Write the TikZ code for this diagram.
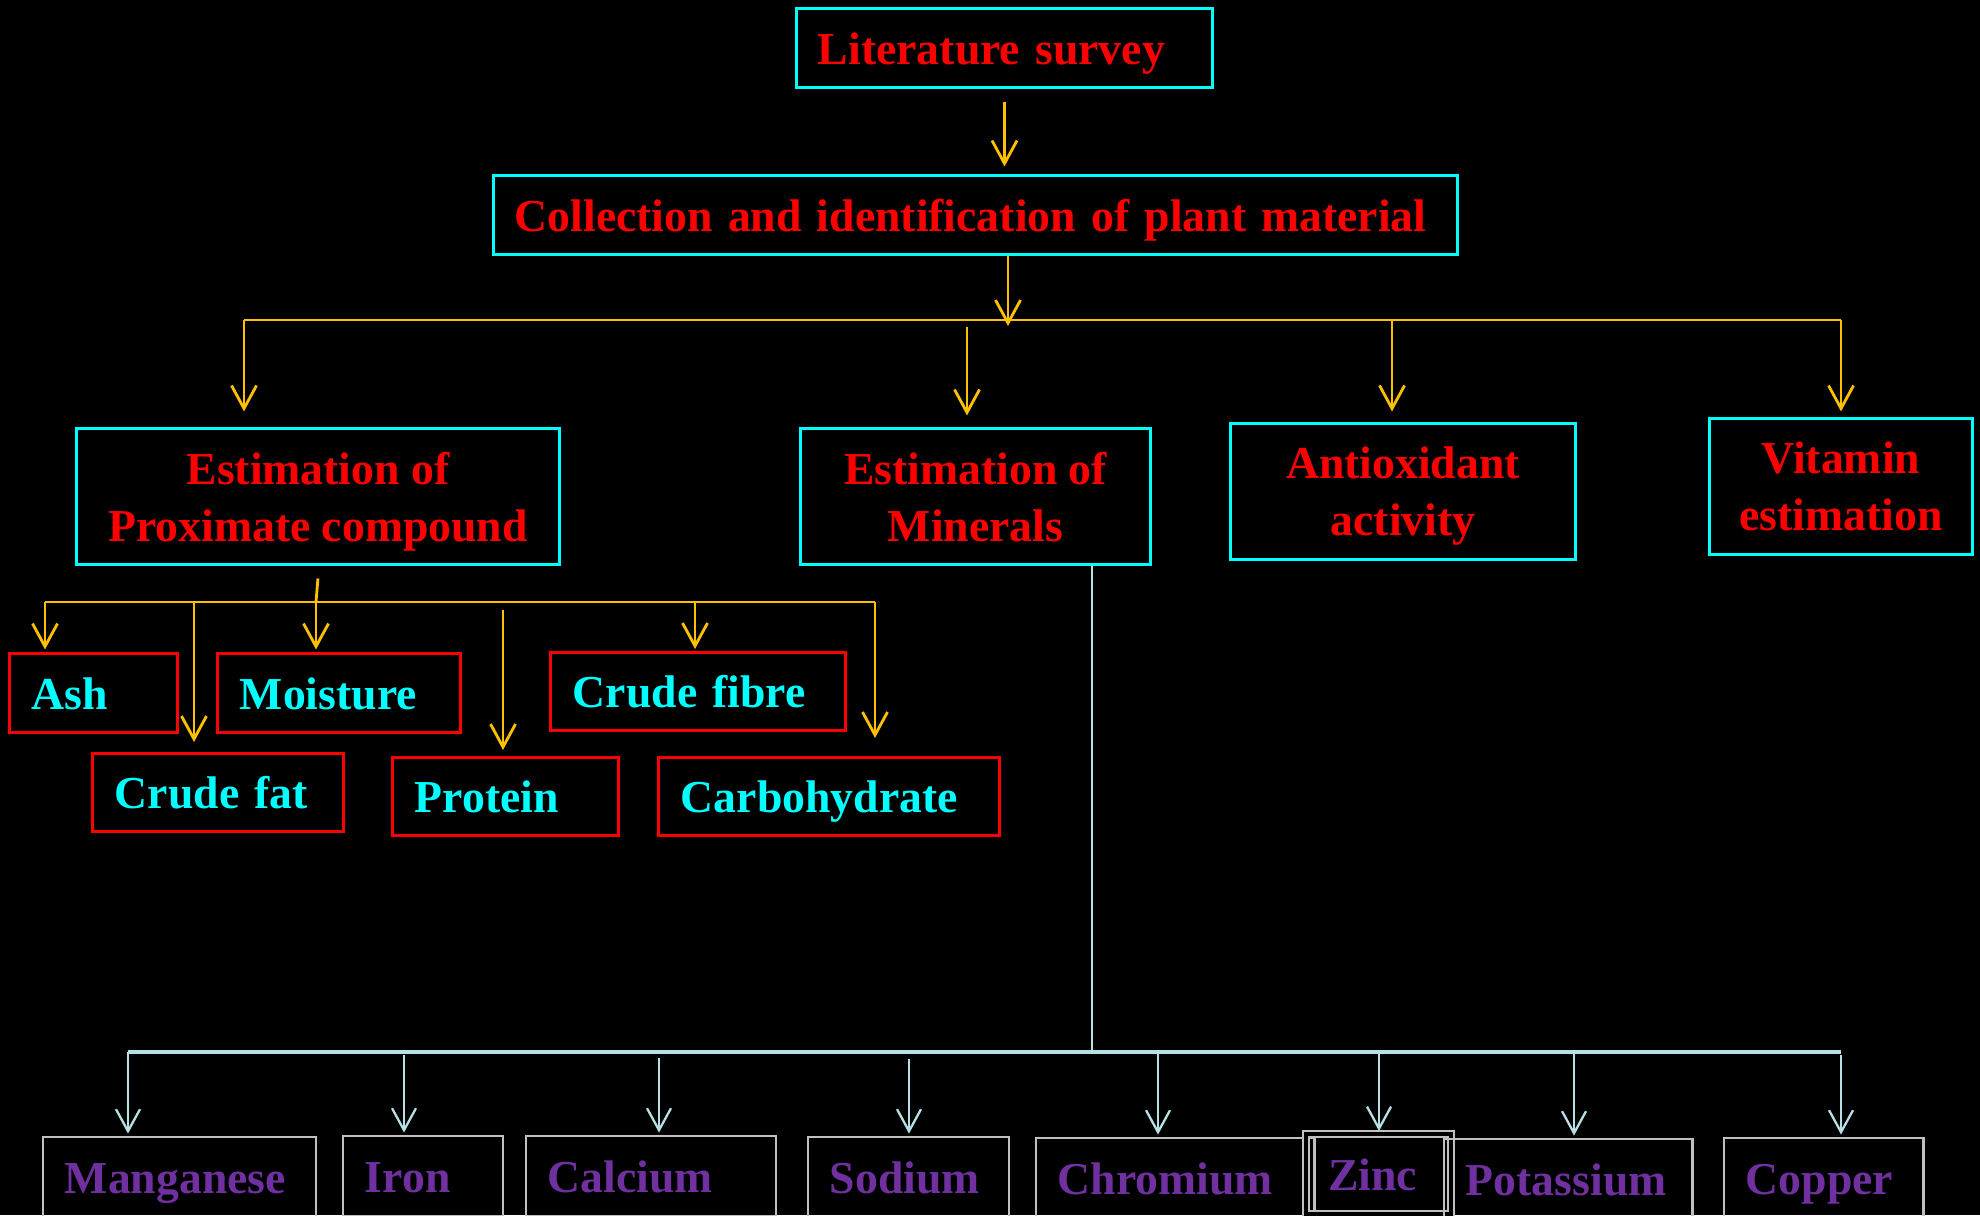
\documentclass[tikz,border=0pt]{standalone}
\usepackage{fontspec}
\setmainfont{Liberation Serif}
\usepackage{xcolor}
\usepackage{tikz}
\usetikzlibrary{
    positioning,
    arrows.meta,
    calc
}
\definecolor{boxcyan}{HTML}{00FFFF}
\definecolor{txtred}{HTML}{FF0000}
\definecolor{linkyellow}{HTML}{FFC000}
\definecolor{minblue}{HTML}{B7E0E6}
\definecolor{mingray}{HTML}{C0C0C0}
\definecolor{minpurple}{HTML}{7030A0}
\newcommand{\flowfont}{\fontsize{13}{16.2}\selectfont\bfseries}
\tikzset{
    stagebox/.style={
        rectangle, draw=boxcyan, line width=0.85pt,
        text=txtred, font=\flowfont,
        inner sep=0pt, align=center, text depth=0cm
    },
    stageline/.style={
        stagebox, align=left, inner xsep=0.21cm,
        minimum height=0.78cm, text height=0.32cm, text depth=0cm
    },
    proxleaf/.style={
        rectangle, draw=txtred, line width=0.85pt,
        text=boxcyan, font=\flowfont, align=left,
        inner xsep=0.22cm, inner ysep=0pt,
        minimum height=0.78cm, text height=0.32cm, text depth=0cm
    },
    minleaf/.style={
        rectangle, draw=mingray, line width=0.8pt,
        text=minpurple, font=\flowfont, align=left,
        inner xsep=0.22cm, inner ysep=0pt,
        minimum height=0.8cm, text height=0.32cm, text depth=0cm
    },
    flowline/.style={draw=linkyellow, line width=0.8pt},
    flowarrow/.style={flowline, -{Straight Barb[length=0.23cm, width=0.25cm, line width=0.8pt]}},
    minline/.style={draw=minblue, line width=0.75pt},
    minbar/.style={draw=minblue, line width=1.15pt},
    minarrow/.style={minline, line width=0.65pt, -{Straight Barb[length=0.22cm, width=0.24cm, line width=0.65pt]}}
}

\begin{document}
\begin{tikzpicture}[x=0.01cm, y=-0.01cm]

    \useasboundingbox (0,0) rectangle (1980,1215);
    \fill[black] (0,0) rectangle (1980,1215);

    % TOP STAGES
    \node[stageline, text width=3.73cm] (lit) at (1004.5,48) {Literature survey};
    \node[stageline, text width=9.21cm] (coll) at (975.5,215) {Collection and identification of plant material};

    % ESTIMATIONS
    \node[stagebox, minimum width=4.82cm, minimum height=1.35cm] (prox) at (318,496.5) {Estimation of\\Proximate compound};
    \node[stagebox, minimum width=3.49cm, minimum height=1.35cm] (minr) at (975.5,496.5) {Estimation of\\Minerals};
    \node[stagebox, minimum width=3.44cm, minimum height=1.35cm] (anti) at (1403,491.5) {Antioxidant\\activity};
    \node[stagebox, minimum width=2.62cm, minimum height=1.35cm] (vita) at (1841,486.5) {Vitamin\\estimation};

    % PROXIMATE LEAVES
    \node[proxleaf, text width=1.23cm] (ash) at (93.5,693) {Ash};
    \node[proxleaf, text width=2.06cm] (fat) at (218,792.5) {Crude fat};
    \node[proxleaf, text width=1.98cm] (moist) at (339,693) {Moisture};
    \node[proxleaf, text width=1.81cm] (prot) at (505.5,796.5) {Protein};
    \node[proxleaf, text width=2.50cm] (fibre) at (698,691.5) {Crude fibre};
    \node[proxleaf, text width=2.96cm] (carb) at (829,796.5) {Carbohydrate};

    % MINERAL LEAVES
    \node[minleaf, text width=2.29cm] (mang) at (179.5,1177) {Manganese};
    \node[minleaf, text width=1.16cm] (iron) at (423,1176) {Iron};
    \node[minleaf, text width=2.06cm] (calc) at (651,1176) {Calcium};
    \node[minleaf, text width=1.57cm] (sod) at (908.5,1177) {Sodium};
    \node[minleaf, text width=2.34cm] (chrom) at (1175,1178) {Chromium};
    \node[minleaf, text width=1.01cm, line width=0.55pt, double=black, double distance=0.04cm] (zinc) at (1378.5,1174) {Zinc};
    \node[minleaf, text width=2.04cm] (pot) at (1568,1179) {Potassium};
    \node[minleaf, text width=1.55cm] (copp) at (1823.5,1178) {Copper};

    % Connections
    % Literature -> Collection
    \draw[flowarrow, shorten <=0.13cm, shorten >=0.08cm] (lit.south) -- (lit.south |- coll.north);

    % Collection -> bus
    \coordinate (hub_top) at (1008,320);
    \coordinate (bar_l) at (244,320);
    \coordinate (bar_r) at (1841,320);
    \draw[flowarrow] (coll.south -| hub_top) -- ([yshift=-0.06cm]hub_top);
    \draw[flowline] (bar_l) -- (bar_r);

    % bus -> Estimations
    \coordinate (minr_in) at (967,327);
    \coordinate (anti_in) at (1392,320);
    \draw[flowarrow, shorten >=0.16cm] (bar_l) -- (bar_l |- prox.north);
    \draw[flowarrow, shorten >=0.12cm] (minr_in) -- (minr_in |- minr.north);
    \draw[flowarrow, shorten >=0.11cm] (anti_in) -- (anti_in |- anti.north);
    \draw[flowarrow, shorten >=0.06cm] (bar_r) -- (vita.north);

    % Proximate -> leaves
    \coordinate (prox_hub) at (316,602);
    \coordinate (prox_bar_l) at (45,602);
    \coordinate (prox_bar_r) at (875,602);
    \coordinate (fat_in) at (194,602);
    \coordinate (prot_in) at (503,610);
    \coordinate (fibre_in) at (695,602);
    \draw[flowline, shorten <=0.13cm] ([xshift=0.01cm]prox.south) -- (prox_hub);
    \draw[flowline] (prox_bar_l) -- (prox_bar_r);
    \draw[flowarrow, shorten >=0.03cm] (prox_bar_l) -- (prox_bar_l |- ash.north);
    \draw[flowarrow, shorten >=0.10cm] (fat_in) -- (fat_in |- fat.north);
    \draw[flowarrow, shorten >=0.03cm] (prox_hub) -- (prox_hub |- moist.north);
    \draw[flowarrow, shorten >=0.06cm] (prot_in) -- (prot_in |- prot.north);
    \draw[flowarrow, shorten >=0.02cm] (fibre_in) -- (fibre_in |- fibre.north);
    \draw[flowarrow, shorten >=0.18cm] (prox_bar_r) -- (prox_bar_r |- carb.north);

    % Minerals -> leaves
    \coordinate (min_hub) at (1092,1052);
    \coordinate (min_bar_l) at (128,1052);
    \coordinate (min_bar_r) at (1841,1052);
    \draw[minline] (minr.south -| min_hub) -- (min_hub);
    \draw[minbar] (min_bar_l) -- (min_bar_r);
    \foreach \m/\x/\y in {mang/128/1052, iron/404/1055, calc/659/1058, sod/909/1059,
                          chrom/1158/1052, zinc/1379/1052, pot/1574/1052, copp/1841/1055} {
        \coordinate (\m_in) at (\x,\y);
        \draw[minarrow, shorten >=0.02cm] (\m_in) -- (\m_in |- \m.north);
    }

\end{tikzpicture}
\end{document}
